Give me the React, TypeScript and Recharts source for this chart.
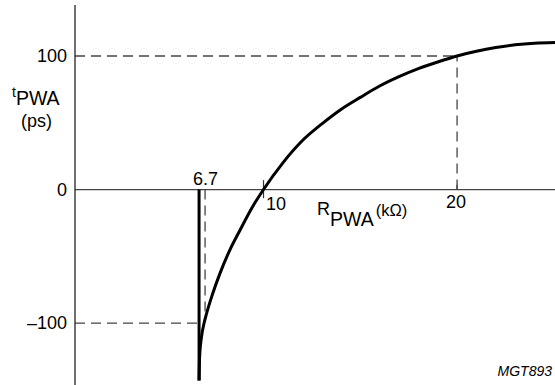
import React from 'react';
import { LineChart, Line, XAxis, YAxis, ReferenceLine } from 'recharts';

// R_PWA (kOhm) vs t_PWA (ps)
const resistance = [
  6.67, 6.7, 6.8, 6.93, 7.06, 7.35, 7.75, 8.27, 8.79, 9.39, 10, 11, 12, 13, 14, 15, 16, 17, 18,
  19, 20, 21, 22, 23, 24, 25.06,
];
const pulseWidth = [
  -143, -125, -110, -100, -92.7, -79, -62.8, -45, -30.3, -14, 0, 20, 36.5, 49, 60, 69, 77.5,
  84.5, 90.5, 95.5, 100, 103.5, 106.3, 108.4, 109.6, 110.1,
];
const yTicks = [-100, 0, 100];

// marked points
const asymptoteR = 6.67;
const markR = 6.98;
const markLow = -97;
const upperR = 20;
const upperT = 100;
const lowerT = -100;
const tickR = 10;

const X_DOMAIN: [number, number] = [0.26, 25.06];
const Y_DOMAIN: [number, number] = [-146.4, 138.2];

const data = resistance.map((r, i) => ({ r, t: pulseWidth[i] }));

const FONT = '"Liberation Sans", Arial, Helvetica, sans-serif';
const DASH = '10 6';
const DASH_COLOR = '#444';

export default function App() {
  return (
    <div style={{ position: 'absolute', left: 0, top: 0, width: 555, height: 385, background: '#fff' }}>
      <LineChart width={555} height={385} data={data} margin={{ top: 5, right: 0, bottom: 0, left: 0 }}>
        <XAxis type="number" dataKey="r" domain={X_DOMAIN} allowDataOverflow hide />
        <YAxis
          type="number"
          domain={Y_DOMAIN}
          allowDataOverflow
          ticks={yTicks}
          width={75}
          tickLine={false}
          axisLine={{ stroke: '#222', strokeWidth: 1.3 }}
          tickFormatter={(v: number) => (v < 0 ? `\u2013${Math.abs(v)}` : `${v}`)}
          tick={{ fill: '#000', fontSize: 18, fontFamily: FONT }}
        />
        {/* horizontal axis at t = 0 */}
        <ReferenceLine y={0} stroke="#444" strokeWidth={1.3} />
        <ReferenceLine
          segment={[{ x: tickR, y: 7 }, { x: tickR, y: -6.5 }]}
          stroke="#333"
          strokeWidth={1.2}
        />
        <ReferenceLine
          segment={[{ x: upperR, y: 3.5 }, { x: upperR, y: 0 }]}
          stroke="#333"
          strokeWidth={1.2}
        />
        {/* dashed guides */}
        <ReferenceLine
          segment={[{ x: X_DOMAIN[0], y: upperT }, { x: upperR, y: upperT }]}
          stroke={DASH_COLOR}
          strokeWidth={1.3}
          strokeDasharray={DASH}
        />
        <ReferenceLine
          segment={[{ x: upperR, y: 0 }, { x: upperR, y: upperT }]}
          stroke={DASH_COLOR}
          strokeWidth={1.3}
          strokeDasharray={DASH}
        />
        <ReferenceLine
          segment={[{ x: X_DOMAIN[0], y: lowerT }, { x: asymptoteR, y: lowerT }]}
          stroke={DASH_COLOR}
          strokeWidth={1.3}
          strokeDasharray={DASH}
        />
        <ReferenceLine
          segment={[{ x: markR, y: 0 }, { x: markR, y: markLow }]}
          stroke={DASH_COLOR}
          strokeWidth={1.3}
          strokeDasharray={DASH}
        />
        {/* asymptote */}
        <ReferenceLine
          segment={[{ x: asymptoteR, y: 0 }, { x: asymptoteR, y: pulseWidth[0] }]}
          stroke="#000"
          strokeWidth={3}
        />
        <Line
          type="monotone"
          dataKey="t"
          stroke="#000"
          strokeWidth={3}
          dot={false}
          isAnimationActive={false}
        />
        <g fontFamily={FONT} fill="#000">
          <text x={193} y={185} fontSize={18}>6.7</text>
          <text x={266} y={210} fontSize={18}>10</text>
          <text x={456} y={208} fontSize={18} textAnchor="middle">20</text>
          <text x={317} y={215} fontSize={18}>
            R<tspan dy={11} fontSize={19.5}>PWA</tspan>
            <tspan dx={2} dy={-10} fontSize={16.5}>(kΩ)</tspan>
          </text>
          <text x={12} y={97} fontSize={14}>
            t<tspan dy={8} fontSize={19.5}>PWA</tspan>
          </text>
          <text x={21} y={127} fontSize={18}>(ps)</text>
          <text x={552} y={376} fontSize={14} fontStyle="italic" textAnchor="end">MGT893</text>
        </g>
      </LineChart>
    </div>
  );
}
